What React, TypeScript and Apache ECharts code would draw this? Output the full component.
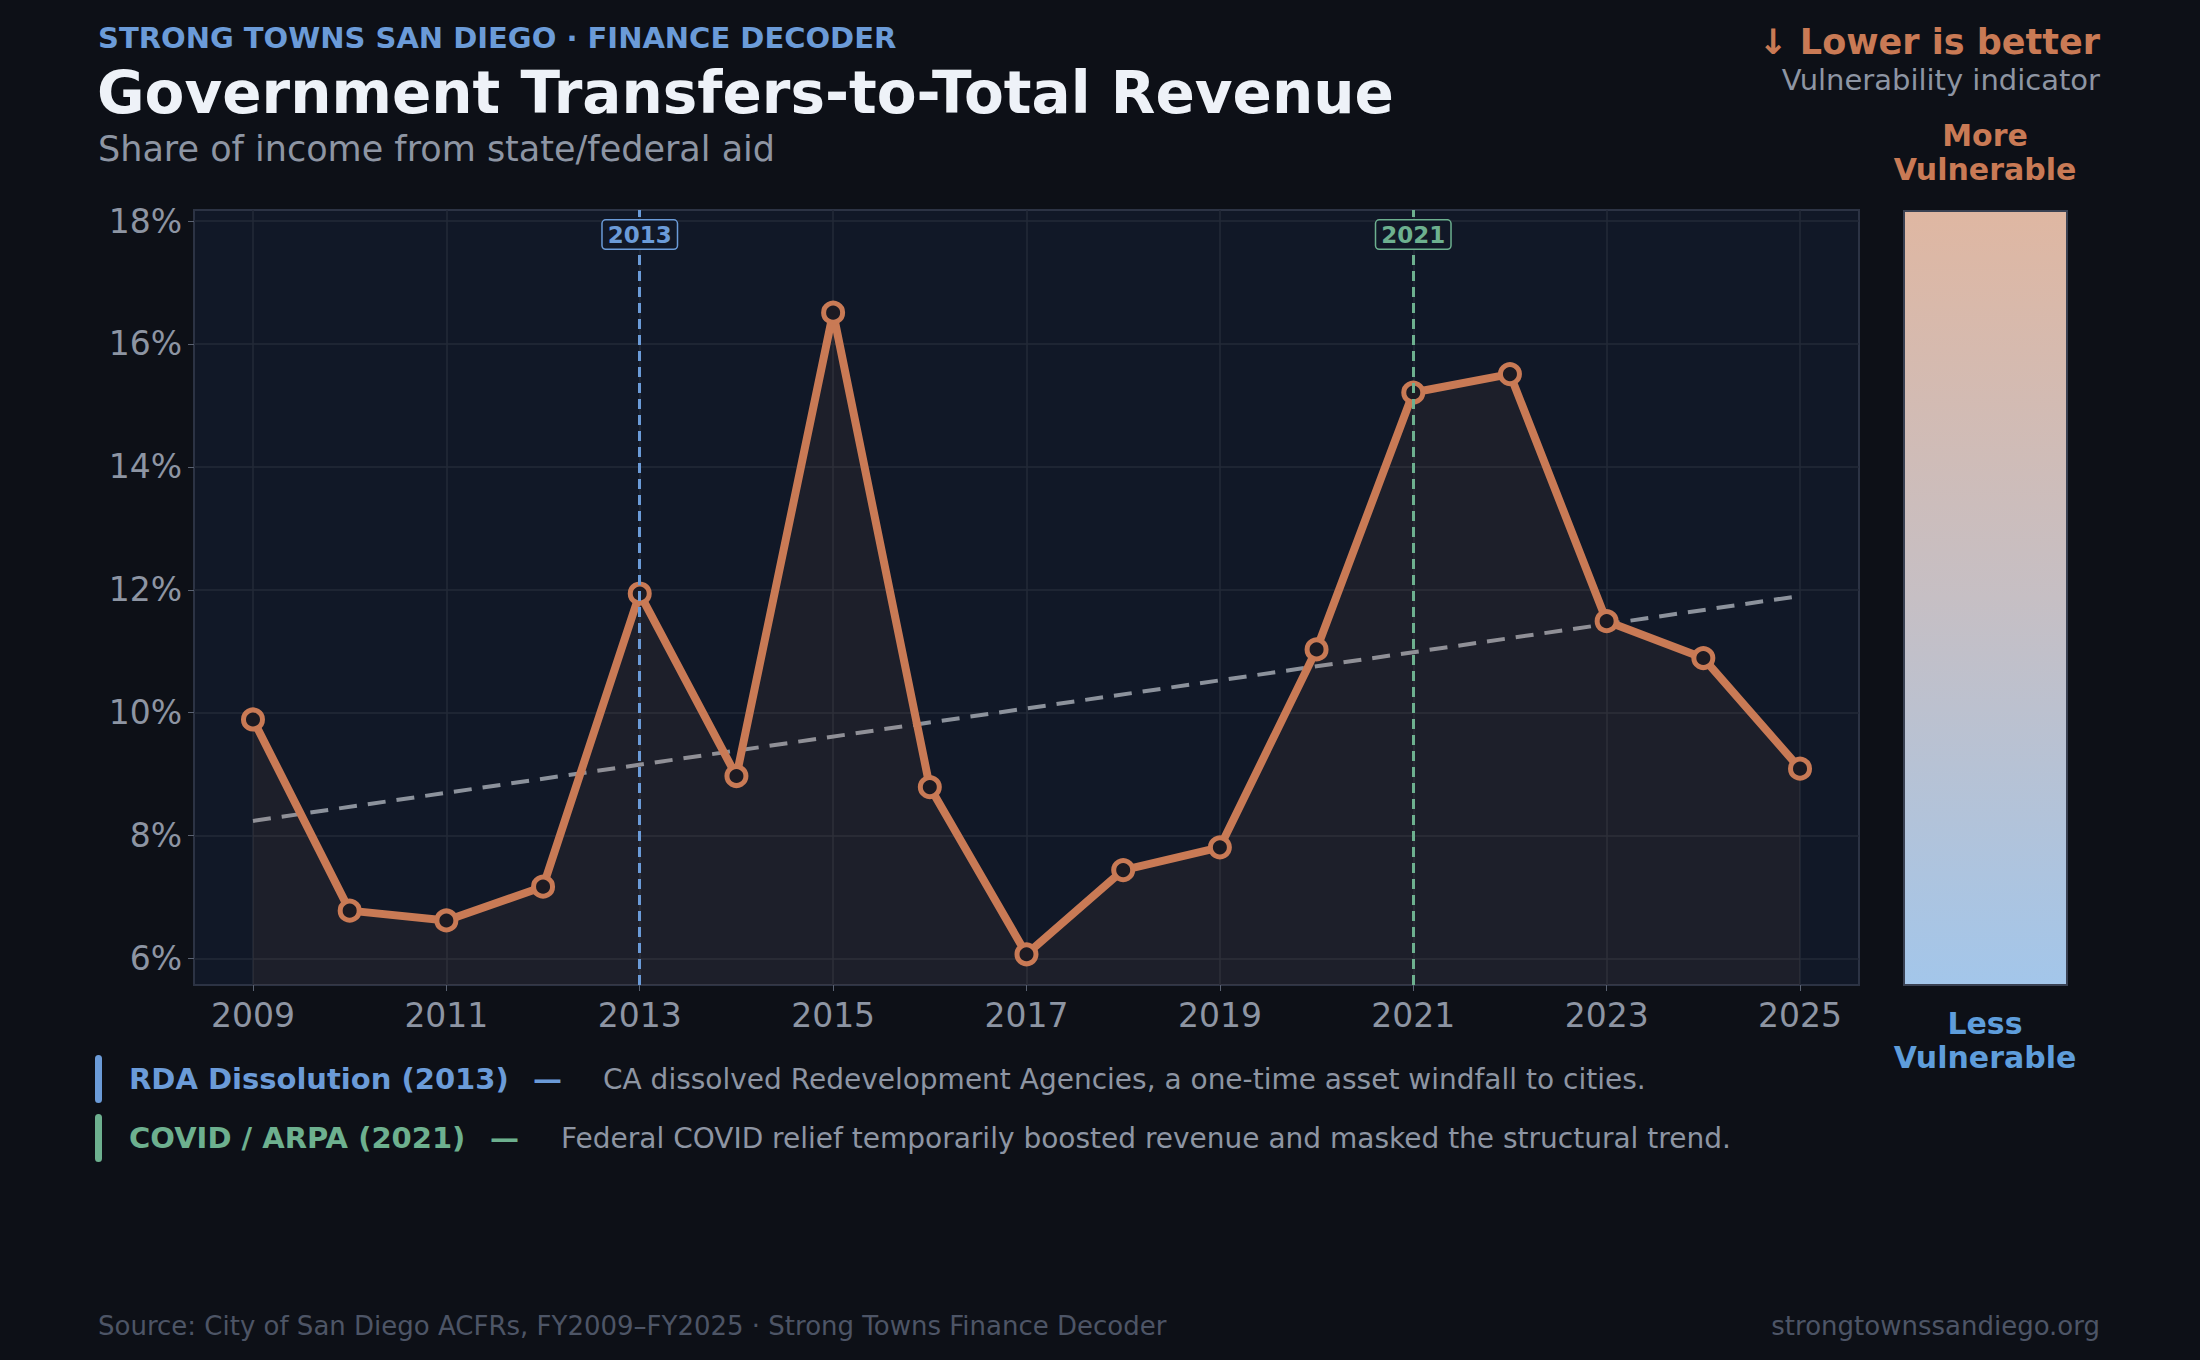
import * as echarts from "echarts";
import { useEffect, useRef } from "react";

const years = [2009, 2010, 2011, 2012, 2013, 2014, 2015, 2016, 2017, 2018, 2019, 2020, 2021, 2022, 2023, 2024, 2025];
const transferShare = [9.89, 6.78, 6.62, 7.17, 11.94, 8.97, 16.51, 8.79, 6.07, 7.44, 7.81, 11.03, 15.21, 15.51, 11.49, 10.89, 9.09];
const trendYears = [2009, 2025];
const trendValues = [8.24, 11.9];
const xTicks = [2009, 2011, 2013, 2015, 2017, 2019, 2021, 2023, 2025];
const yTicks = [6, 8, 10, 12, 14, 16, 18];
const events = [
  { year: 2013, label: "2013", color: "#6b9bd8", name: "RDA Dissolution (2013)", text: "CA dissolved Redevelopment Agencies, a one-time asset windfall to cities." },
  { year: 2021, label: "2021", color: "#6db08f", name: "COVID / ARPA (2021)", text: "Federal COVID relief temporarily boosted revenue and masked the structural trend." },
];

const FONT = "DejaVu Sans";
const LINE = "#c97a55";

export default function App() {
  const ref = useRef<HTMLDivElement | null>(null);

  useEffect(() => {
    if (!ref.current) return;
    document.body.style.margin = "0";
    const chart = echarts.init(ref.current, null, { renderer: "svg" });

    const eventGraphics: any[] = [];
    events.forEach((ev, i) => {
      const y = 1079 + i * 59;
      eventGraphics.push(
        { type: "rect", shape: { x: 95, y: y - 24, width: 7, height: 48, r: 3.5 }, style: { fill: ev.color } },
        { type: "text", x: 129, y, style: { text: ev.name, fill: ev.color, font: `bold 29px '${FONT}'`, verticalAlign: "middle" } },
        { type: "text", x: i === 0 ? 533 : 490, y, style: { text: "—", fill: ev.color, font: `bold 29px '${FONT}'`, verticalAlign: "middle" } },
        { type: "text", x: i === 0 ? 603 : 561, y, style: { text: ev.text, fill: "#8d95a3", font: `28px '${FONT}'`, verticalAlign: "middle" } }
      );
    });

    chart.setOption({
      animation: false,
      backgroundColor: "#0d1017",
      textStyle: { fontFamily: FONT },
      grid: { left: 194, right: 341, top: 210, bottom: 375, show: true, backgroundColor: "#111827", borderColor: "#2c3344", borderWidth: 2 },
      xAxis: {
        type: "value",
        min: 2008.39,
        max: 2025.61,
        axisLine: { show: false },
        axisTick: { show: true, customValues: xTicks, length: 6, lineStyle: { color: "#5a6272" } },
        axisLabel: { customValues: xTicks, color: "#8d95a3", fontSize: 33, margin: 14, formatter: (v: number) => String(v) },
        splitLine: { show: true, lineStyle: { color: "#232a38", width: 1.5 } },
      },
      yAxis: {
        type: "value",
        min: 5.57,
        max: 18.18,
        axisLine: { show: false },
        axisTick: { show: true, customValues: yTicks, length: 6, lineStyle: { color: "#5a6272" } },
        axisLabel: { customValues: yTicks, color: "#8d95a3", fontSize: 33, margin: 12, formatter: (v: number) => `${v}%` },
        splitLine: { show: true, lineStyle: { color: "#232a38", width: 1.5 } },
      },
      series: [
        {
          type: "line",
          data: trendYears.map((y, i) => [y, trendValues[i]]),
          symbol: "none",
          lineStyle: { color: "#8c929c", width: 4, type: [18, 11] },
          z: 2,
        },
        {
          type: "line",
          data: years.map((y, i) => [y, transferShare[i]]),
          symbol: "circle",
          symbolSize: 19,
          itemStyle: { color: "#1c1a22", borderColor: LINE, borderWidth: 5 },
          lineStyle: { color: LINE, width: 8 },
          areaStyle: { color: "rgba(201,122,85,0.1)", origin: "start" },
          z: 4,
          markLine: {
            silent: true,
            symbol: "none",
            label: { show: false },
            data: events.map((ev) => [
              { coord: [ev.year, 5.57], lineStyle: { color: ev.color, type: [10, 6], width: 3 } },
              { coord: [ev.year, 18.18] },
            ]),
          },
          markPoint: {
            symbol: "circle",
            symbolSize: 0,
            data: events.map((ev) => ({
              coord: [ev.year, 17.78],
              label: {
                show: true,
                position: "inside",
                formatter: ev.label,
                color: ev.color,
                fontWeight: "bold",
                fontSize: 23,
                backgroundColor: "#111827",
                borderColor: ev.color,
                borderWidth: 1.5,
                borderRadius: 3,
                padding: [3, 5, 2, 5],
              },
            })),
          },
        },
      ],
      graphic: [
        { type: "text", x: 98, y: 38, style: { text: "STRONG TOWNS SAN DIEGO · FINANCE DECODER", fill: "#6b9bd8", font: `bold 29px '${FONT}'`, verticalAlign: "middle" } },
        { type: "text", x: 97, y: 93, style: { text: "Government Transfers-to-Total Revenue", fill: "#eef2f8", font: `bold 58px '${FONT}'`, verticalAlign: "middle" } },
        { type: "text", x: 98, y: 149, style: { text: "Share of income from state/federal aid", fill: "#8d95a3", font: `35px '${FONT}'`, verticalAlign: "middle" } },
        { type: "text", x: 2100, y: 42, style: { text: "↓ Lower is better", fill: LINE, font: `bold 35px '${FONT}'`, align: "right", verticalAlign: "middle" } },
        { type: "text", x: 2100, y: 80, style: { text: "Vulnerability indicator", fill: "#8d95a3", font: `29px '${FONT}'`, align: "right", verticalAlign: "middle" } },
        { type: "text", x: 1985, y: 152, style: { text: "More\nVulnerable", fill: LINE, font: `bold 30px '${FONT}'`, align: "center", verticalAlign: "middle", lineHeight: 34 } },
        { type: "text", x: 1985, y: 1040, style: { text: "Less\nVulnerable", fill: "#5e9ddb", font: `bold 30px '${FONT}'`, align: "center", verticalAlign: "middle", lineHeight: 34 } },
        {
          type: "rect",
          shape: { x: 1904, y: 211, width: 163, height: 774 },
          style: {
            fill: new echarts.graphic.LinearGradient(0, 0, 0, 1, [
              { offset: 0, color: "#dfb7a2" },
              { offset: 0.5, color: "#c6bfc4" },
              { offset: 1, color: "#a3c6ea" },
            ]),
            stroke: "#3a4152",
            lineWidth: 2,
          },
        },
        ...eventGraphics,
        { type: "text", x: 98, y: 1326, style: { text: "Source: City of San Diego ACFRs, FY2009–FY2025 · Strong Towns Finance Decoder", fill: "#4d5566", font: `26px '${FONT}'`, verticalAlign: "middle" } },
        { type: "text", x: 2100, y: 1326, style: { text: "strongtownssandiego.org", fill: "#4d5566", font: `26px '${FONT}'`, align: "right", verticalAlign: "middle" } },
      ],
    });

    return () => chart.dispose();
  }, []);

  return <div ref={ref} style={{ width: 2200, height: 1360 }} />;
}
